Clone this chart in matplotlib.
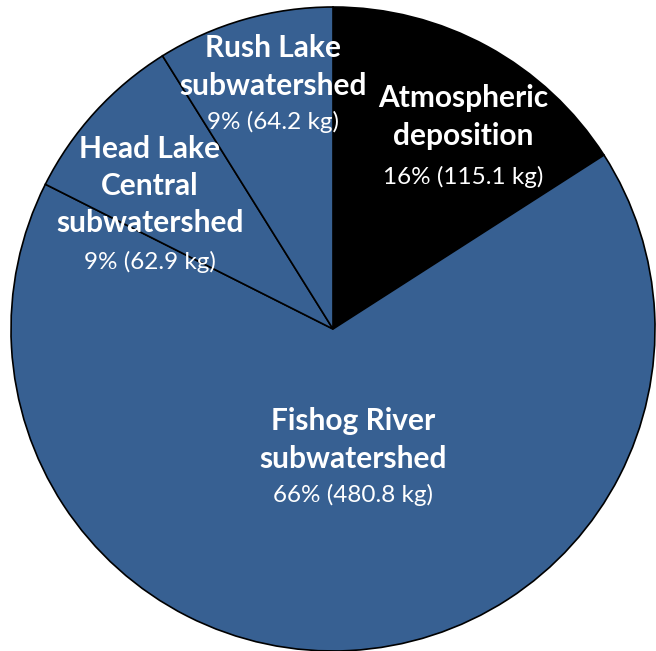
import matplotlib
matplotlib.use("Agg")
import matplotlib.pyplot as plt

categories = ["Atmospheric\ndeposition", "Fishog River\nsubwatershed",
              "Head Lake\nCentral\nsubwatershed", "Rush Lake\nsubwatershed"]
values = [115.1, 480.8, 62.9, 64.2]
percents = ["16%", "66%", "9%", "9%"]
colors = ["#000000", "#376092", "#376092", "#376092"]

W, H = 656, 651
fig = plt.figure(figsize=(W / 100, H / 100), dpi=100)
ax = fig.add_axes([0, 0, 1, 1])
cx, cy, R = 333, 329, 322
ax.axis("off")

ax.pie(values, colors=colors, startangle=90, counterclock=False, radius=1,
       wedgeprops=dict(edgecolor="black", linewidth=1.2))
ax.set_xlim(-cx / R, (W - cx) / R)
ax.set_ylim(-(H - cy) / R, cy / R)
ax.set_aspect("auto")

# label anchor positions (pixels): title block center and percent line
label_pos = [(463, 117, 177), (353, 440, 495), (150, 186, 262), (273, 67, 122)]
fam = ["Lato", "DejaVu Sans"]
for cat, v, p, (px, ty, py) in zip(categories, values, percents, label_pos):
    fig.text(px / W, 1 - ty / H, cat, ha="center", va="center", color="white",
             fontsize=21.5, fontweight="bold", family=fam, linespacing=1.4)
    fig.text(px / W, 1 - py / H, f"{p} ({v} kg)", ha="center", va="center",
             color="white", fontsize=17.5, family=fam)

fig.savefig("out.png", dpi=100)
